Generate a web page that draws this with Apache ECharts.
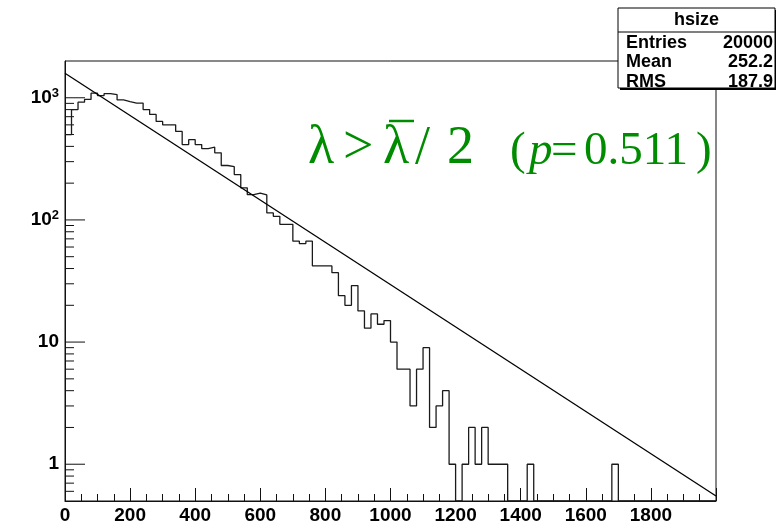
<!DOCTYPE html>
<html>
<head>
<meta charset="utf-8">
<script src="https://cdn.jsdelivr.net/npm/echarts@6/dist/echarts.min.js"></script>
<style>
  html, body { margin: 0; padding: 0; background: #ffffff; }
  #chart { width: 776px; height: 527px; }
</style>
</head>
<body>
<div id="chart"></div>
<script>
// hsize histogram: 100 bins of width 20 over [0, 2000)
const binWidth = 20;
const counts = [
  500, 800, 920, 970, 1090, 1040, 1080, 1060, 960, 930,
  905, 905, 800, 730, 640, 600, 600, 530, 414, 454,
  414, 384, 394, 354, 279, 273, 235, 183, 161, 166,
  160, 114, 107, 92, 92, 67, 64, 67, 42, 42,
  42, 37, 24, 20, 29, 18, 13, 17, 14, 15,
  10, 6, 6, 3, 6, 9, 2, 3, 4, 1,
  0, 1, 2, 1, 2, 1, 1, 1, 0, 0,
  0, 1, 0, 0, 0, 0, 0, 0, 0, 0,
  0, 0, 0, 0, 1, 0, 0, 0, 0, 0,
  0, 0, 0, 0, 0, 0, 0, 0, 0, 0
];
// exponential fit, straight on the log scale: end points
const fitPoints = [[0, 1590], [2000, 0.55]];

const xMin = 0, xMax = 2000, xStep = 200;
const yMin = 0.5, yMax = 2000;
const yMajorTicks = [1, 10, 100, 1000];
const yMinorTicks = [
  0.6, 0.7, 0.8, 0.9,
  2, 3, 4, 5, 6, 7, 8, 9,
  20, 30, 40, 50, 60, 70, 80, 90,
  200, 300, 400, 500, 600, 700, 800, 900
];

const statsTitle = 'hsize';
const statsRows = [['Entries', '20000'], ['Mean', '252.2'], ['RMS', '187.9']];
const cutLabel = ['λ', '>', 'λ', '/', '2'];
const probLabel = ['(', 'p', '=', '0.511', ')'];

// step outline; empty bins fall to the bottom of the frame
const outline = counts.map((c, i) => [i * binWidth, c > 0 ? c : yMin]);
outline.push([counts.length * binWidth, counts[counts.length - 1] > 0 ? counts[counts.length - 1] : yMin]);

const yTickData = yMajorTicks.map(v => [0, v, 1]).concat(yMinorTicks.map(v => [0, v, 0]));

const SANS = '"Liberation Sans", Arial, Helvetica, sans-serif';
const SERIF = '"Liberation Serif", "Times New Roman", serif';
const GREEN = '#008c00';
const INK = '#111111';

const chart = echarts.init(document.getElementById('chart'), null, { renderer: 'canvas' });

// stats box
const box = { x: 618, y: 8, w: 157, h: 80 };
const graphics = [
  { type: 'rect', z: 100, shape: { x: box.x + 2, y: box.y + 2, width: box.w, height: box.h },
    style: { fill: '#000' } },
  { type: 'rect', z: 101, shape: { x: box.x, y: box.y, width: box.w, height: box.h },
    style: { fill: '#fff', stroke: '#000', lineWidth: 1 } },
  { type: 'line', z: 102, shape: { x1: box.x, y1: box.y + 24, x2: box.x + box.w, y2: box.y + 24 },
    style: { stroke: '#000', lineWidth: 1 } },
  { type: 'text', z: 103, x: box.x + box.w / 2, y: box.y + 12,
    style: { text: statsTitle, font: 'bold 18px ' + SANS, fill: '#000', align: 'center', verticalAlign: 'middle' } }
];
statsRows.forEach((row, i) => {
  const cy = box.y + 35 + i * 19.5;
  graphics.push({ type: 'text', z: 103, x: box.x + 8, y: cy,
    style: { text: row[0], font: 'bold 18px ' + SANS, fill: '#000', align: 'left', verticalAlign: 'middle' } });
  graphics.push({ type: 'text', z: 103, x: box.x + box.w - 2, y: cy,
    style: { text: row[1], font: 'bold 18px ' + SANS, fill: '#000', align: 'right', verticalAlign: 'middle' } });
});

// green annotation
const cutX = [308, 343, 383, 415, 447];
cutLabel.forEach((t, i) => {
  graphics.push({ type: 'text', z: 50, x: cutX[i], y: 176,
    style: { text: t, font: '54px ' + SERIF, fill: GREEN, align: 'left', verticalAlign: 'bottom' } });
});
graphics.push({ type: 'line', z: 50, shape: { x1: 389, y1: 121, x2: 414, y2: 121 },
  style: { stroke: GREEN, lineWidth: 2.5 } });
const probX = [510, 529, 551, 584, 696];
probLabel.forEach((t, i) => {
  graphics.push({ type: 'text', z: 50, x: probX[i], y: 175,
    style: { text: t, font: (t === 'p' ? 'italic ' : '') + '47px ' + SERIF, fill: GREEN, align: 'left', verticalAlign: 'bottom' } });
});

const option = {
  animation: false,
  backgroundColor: '#ffffff',
  grid: { left: 65, top: 61, width: 651, height: 440, show: true, borderColor: INK, borderWidth: 1, backgroundColor: 'transparent' },
  xAxis: {
    type: 'value', min: xMin, max: xMax, interval: xStep,
    axisLine: { show: true, lineStyle: { color: INK, width: 1 } },
    axisTick: { show: true, inside: true, length: 13, lineStyle: { color: INK, width: 1 } },
    minorTick: { show: true, splitNumber: 4, length: 7, lineStyle: { color: INK, width: 1 } },
    splitLine: { show: false },
    axisLabel: {
      margin: 5, color: '#000', fontFamily: SANS, fontWeight: 'bold', fontSize: 19,
      showMaxLabel: false,
      formatter: v => (v >= xMax ? '' : String(v))
    }
  },
  yAxis: {
    type: 'log', logBase: 10, min: yMin, max: yMax,
    axisLine: { show: true, lineStyle: { color: INK, width: 1 } },
    axisTick: { show: false },
    splitLine: { show: false },
    axisLabel: {
      margin: 6, color: '#000',
      formatter: v => {
        const l = Math.log10(v), e = Math.round(l);
        if (Math.abs(l - e) > 1e-6 || e < 0 || e > 3) return '';
        if (e === 0) return '{b|1}';
        if (e === 1) return '{b|10}';
        return '{b|10}{s|' + e + '}';
      },
      rich: {
        b: { fontFamily: SANS, fontWeight: 'bold', fontSize: 19, lineHeight: 22, color: '#000' },
        s: { fontFamily: SANS, fontWeight: 'bold', fontSize: 13, lineHeight: 22, verticalAlign: 'top', color: '#000' }
      }
    }
  },
  series: [
    {
      name: 'hsize', type: 'line', step: 'end', data: outline,
      symbol: 'none', silent: true, clip: true,
      lineStyle: { color: '#1a1a1a', width: 1.3 }
    },
    {
      name: 'fit', type: 'line', data: fitPoints,
      symbol: 'none', silent: true, clip: true,
      lineStyle: { color: '#000', width: 1.3 }
    },
    {
      name: 'yticks', type: 'custom', silent: true, data: yTickData,
      encode: { x: 0, y: 1 },
      renderItem: (params, api) => {
        const p = api.coord([0, api.value(1)]);
        const len = api.value(2) ? 20 : 9;
        return { type: 'line', shape: { x1: p[0], y1: p[1], x2: p[0] + len, y2: p[1] },
          style: { stroke: INK, lineWidth: 1 } };
      }
    }
  ],
  graphic: graphics
};
chart.setOption(option);
</script>
</body>
</html>
